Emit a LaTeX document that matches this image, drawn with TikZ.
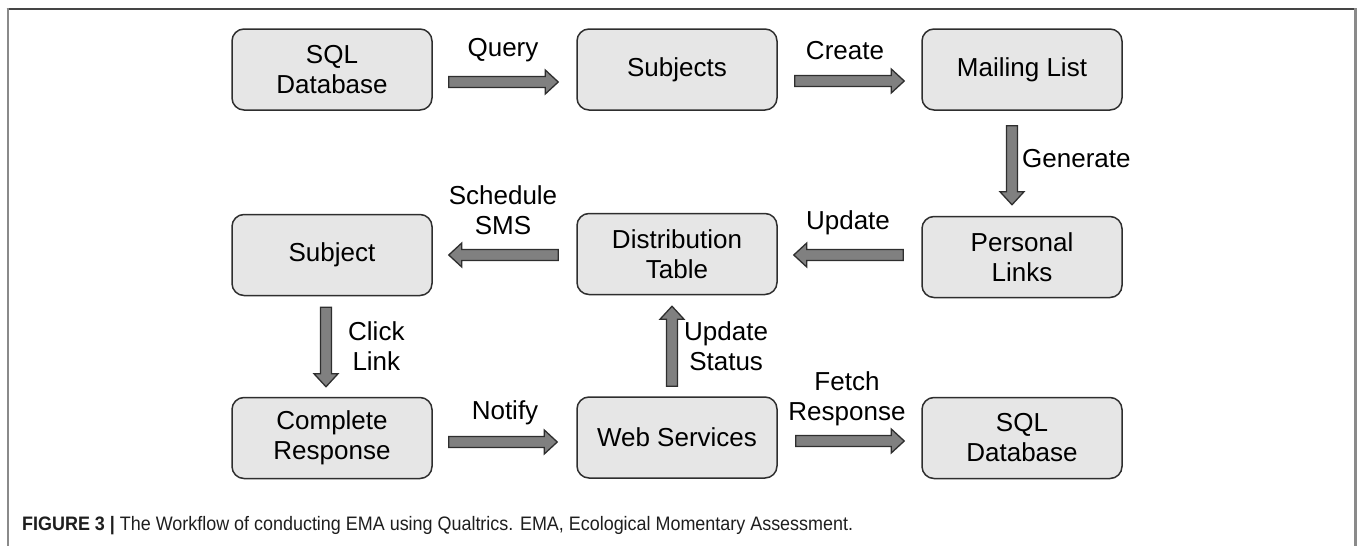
\documentclass[tikz,border=0pt]{standalone}
\usepackage{fontspec}
\setmainfont{Liberation Sans}
\newfontfamily\capfont[FakeStretch=0.92]{Liberation Sans}
\usetikzlibrary{calc}

\definecolor{boxfill}{HTML}{E6E6E6}
\definecolor{boxline}{HTML}{2E2E2E}
\definecolor{arrowfill}{HTML}{808080}
\definecolor{frametop}{HTML}{454545}
\definecolor{frameside}{HTML}{8A8A8A}
\definecolor{captext}{HTML}{1E1E1E}

\tikzset{
  stepbox/.style={draw=boxline, fill=boxfill, line width=1.5pt,
    rounded corners=12pt, minimum width=200pt, minimum height=81pt,
    align=center, text=black, font=\fontsize{26}{30}\selectfont},
  steplabel/.style={align=center, text=black, inner sep=0pt,
    font=\fontsize{26}{30}\selectfont},
  blockarrow/.style={draw=boxline, fill=arrowfill, line width=1.3pt,
    line join=miter}
}

% Block arrow from point #1 to point #2 (shaft 11pt wide, head 24pt wide)
\newcommand\flowarrow[2]{%
  \path[blockarrow] let \p1=#1, \p2=#2,
      \n1={veclen(\x2-\x1,\y2-\y1)},
      \n2={atan2(\y2-\y1,\x2-\x1)} in
    [shift={(\x1,\y1)}, rotate=\n2]
    (0pt,-5.5pt) -- ({\n1-13pt},-5.5pt) -- ({\n1-13pt},-12pt)
    -- ({\n1+0pt},0pt) -- ({\n1-13pt},12pt) -- ({\n1-13pt},5.5pt)
    -- (0pt,5.5pt) -- cycle;}

\begin{document}
\begin{tikzpicture}[x=1pt,y=-1pt]
\useasboundingbox (0,0) rectangle (1358,546);

% frame
\draw[frametop, line width=2pt] (6.5,8.5) -- (1356.5,8.5);
\draw[frameside, line width=2pt] (7.5,8) -- (7.5,546);
\draw[frameside, line width=2.4pt] (1355.5,8) -- (1355.5,546);

% steps
\node[stepbox] (sqlA)     at (332,69.5)  {SQL\\Database};
\node[stepbox] (subjects) at (677,69.5)  {Subjects};
\node[stepbox] (mailing)  at (1022,69.5) {Mailing List};
\node[stepbox] (subject)  at (332,255)   {Subject};
\node[stepbox] (distrib)  at (677,254)   {Distribution\\Table};
\node[stepbox] (personal) at (1022,257)  {Personal\\Links};
\node[stepbox] (complete) at (332,438)   {Complete\\Response};
\node[stepbox] (websvc)   at (677,437.5) {Web Services};
\node[stepbox] (sqlB)     at (1022,438)  {SQL\\Database};

% connectors
\flowarrow{($(sqlA.east)+(16,12.5)$)}{($(subjects.west)+(-18,12.5)$)}
\flowarrow{($(subjects.east)+(17,11.5)$)}{($(mailing.west)+(-17,11.5)$)}
\flowarrow{($(mailing.south)+(-10,15)$)}{($(personal.north)+(-10,-11)$)}
\flowarrow{($(personal.west)+(-18,-2)$)}{($(distrib.east)+(16,1)$)}
\flowarrow{($(distrib.west)+(-18,1)$)}{($(subject.east)+(16,0)$)}
\flowarrow{($(subject.south)+(-6,11)$)}{($(complete.north)+(-6,-10)$)}
\flowarrow{($(complete.east)+(16,4)$)}{($(websvc.west)+(-19,4.5)$)}
\flowarrow{($(websvc.north)+(-5,-10)$)}{($(distrib.south)+(-5,11)$)}
\flowarrow{($(websvc.east)+(18,3.5)$)}{($(sqlB.west)+(-17,3)$)}

% connector labels
\node[steplabel] (lquery)    at (503,50)  {Query};
\node[steplabel] (lcreate)   at (845,51)  {Create};
\node[steplabel, anchor=west] (lgen) at (1022,159) {Generate};
\node[steplabel] (lupdate)   at (848,223) {Update};
\node[steplabel] (lsched)    at (503,210) {Schedule\\SMS};
\node[steplabel, anchor=west] (lclick) at (348,346) {Click\\Link};
\node[steplabel, anchor=west] (lstatus) at (684,346) {Update\\Status};
\node[steplabel] (lnotify)   at (505,413) {Notify};
\node[steplabel] (lfetch)    at (847,399) {Fetch\\Response};

% caption
\node[anchor=base west, inner sep=0pt, text=captext,
      font=\capfont\fontsize{19.5}{22}\selectfont] (caption) at (22,530.5)
  {\textbf{FIGURE 3 |} The Workflow of conducting EMA using Qualtrics. EMA, Ecological Momentary Assessment.};
\end{tikzpicture}
\end{document}
